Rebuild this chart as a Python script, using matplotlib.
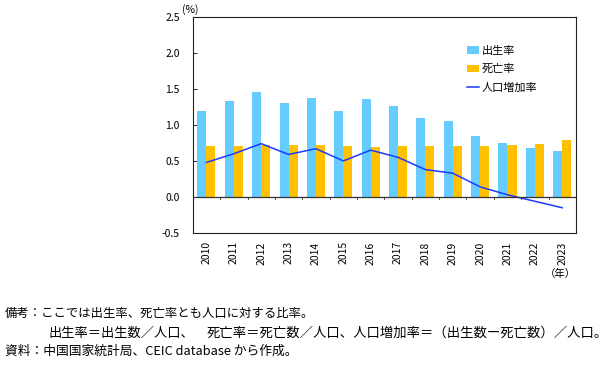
import matplotlib
matplotlib.use("Agg")
import matplotlib.pyplot as plt
import numpy as np

plt.rcParams['font.family'] = ['Noto Sans CJK JP', 'DejaVu Sans']

years = ['2010', '2011', '2012', '2013', '2014', '2015', '2016', '2017',
         '2018', '2019', '2020', '2021', '2022', '2023']
birth = [1.19, 1.33, 1.46, 1.31, 1.38, 1.20, 1.36, 1.26, 1.09, 1.05, 0.85, 0.75, 0.68, 0.64]
death = [0.71, 0.71, 0.72, 0.72, 0.72, 0.71, 0.70, 0.71, 0.71, 0.71, 0.71, 0.72, 0.74, 0.79]
growth = [0.48, 0.60, 0.74, 0.59, 0.67, 0.50, 0.65, 0.55, 0.38, 0.33, 0.14, 0.03, -0.06, -0.15]
labels = ['出生率', '死亡率', '人口増加率']
yticks = [-0.5, 0.0, 0.5, 1.0, 1.5, 2.0, 2.5]

fig = plt.figure(figsize=(6.12, 3.68), dpi=100)
ax = fig.add_axes([0.315, 0.367, 0.626, 0.587])

x = np.arange(len(years))
w = 0.33
b1 = ax.bar(x - w / 2, birth, w, color='#66CCFF', label=labels[0], zorder=2)
b2 = ax.bar(x + w / 2, death, w, color='#FFC000', label=labels[1], zorder=2)
l1, = ax.plot(x, growth, color='#1A3CFF', lw=1.1, label=labels[2], zorder=3)
ax.axhline(0, color='#333333', lw=0.9, zorder=4)

ax.set_xlim(-0.5, len(years) - 0.5)
ax.set_ylim(-0.5, 2.5)
ax.set_yticks(yticks)
ax.set_yticklabels([f'{v:.1f}' for v in yticks], fontsize=7.5)
ax.tick_params(axis='y', direction='in', length=3, width=0.6, pad=9.5)

ax.set_xticks(x)
ax.set_xticklabels(years, rotation=90, fontsize=7.5)
ax.tick_params(axis='x', length=0, pad=6)
# boundary tick marks hanging below zero line
for b in np.arange(0.5, len(years) - 0.5, 1.0):
    ax.plot([b, b], [0, -0.035], color='#333333', lw=0.6, zorder=4)

for s in ax.spines.values():
    s.set_color('#222222')
    s.set_linewidth(0.8)

ax.text(-0.027, 1.008, '(%)', transform=ax.transAxes, fontsize=7.5, ha='left', va='bottom')
fig.text(0.915, 0.255, '（年）', fontsize=7.5, ha='center', va='center')

leg = ax.legend([b1, b2, l1], labels, loc='upper left', bbox_to_anchor=(0.69, 0.912),
                frameon=False, fontsize=8, handlelength=1.1, handletextpad=0.2,
                labelspacing=0.75)

fig.text(0.008, 0.148, '備考：ここでは出生率、死亡率とも人口に対する比率。', fontsize=8.9, va='center')
fig.text(48 / 612, 0.095, '出生率＝出生数／人口、', fontsize=9.5, va='center')
fig.text(207 / 612, 0.095, '死亡率＝死亡数／人口、人口増加率＝（出生数ー死亡数）／人口。',
         fontsize=9.6, va='center')
fig.text(0.008, 0.045, '資料：中国国家統計局、CEIC database から作成。', fontsize=9.2, va='center')

fig.savefig('out.png', dpi=100)
